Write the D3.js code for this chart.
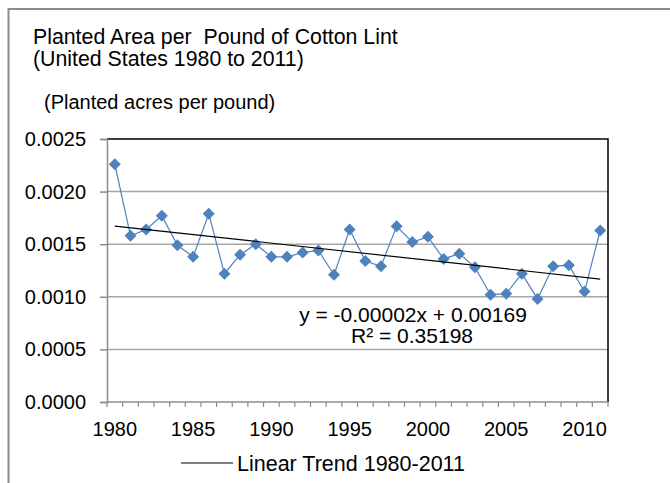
<!DOCTYPE html>
<html>
  <head>
    <meta charset="utf-8" />
    <title>Planted Area per Pound of Cotton Lint</title>
    <script src="https://cdnjs.cloudflare.com/ajax/libs/d3/7.8.5/d3.min.js"></script>
    <style>
      body { margin: 0; background: #fff; }
      text { font-family: "Liberation Sans", Arial, sans-serif; fill: #000; }
    </style>
  </head>
  <body>
    <div id="chart"></div>
    <script>
      // years on the category axis
      const years = d3.range(1980, 2012);
      // planted acres per pound of lint
      const acresPerPound = [
        0.00226, 0.00158, 0.00164, 0.00177, 0.00149, 0.00138, 0.00179, 0.00122,
        0.0014, 0.0015, 0.00138, 0.00138, 0.00142, 0.00144, 0.00121, 0.00164,
        0.00134, 0.00129, 0.00167, 0.00152, 0.00157, 0.00136, 0.00141, 0.00128,
        0.00102, 0.00103, 0.00122, 0.00098, 0.00129, 0.0013, 0.00105, 0.00163,
      ];
      const yTicks = [0, 0.0005, 0.001, 0.0015, 0.002, 0.0025];
      const xLabelYears = [1980, 1985, 1990, 1995, 2000, 2005, 2010];
      const titleLines = ["Planted Area per\u00a0 Pound of Cotton Lint", "(United States 1980 to 2011)"];
      const unitLabel = "(Planted acres per pound)";
      const equationText = "y = -0.00002x + 0.00169";
      const r2Text = "R\u00b2 = 0.35198";
      const legendText = "Linear Trend 1980-2011";

      const width = 670, height = 483;
      const plot = { left: 107, right: 608, top: 139, bottom: 402 };
      const blue = "#4f81bd";

      const svg = d3.select("#chart").append("svg")
        .attr("width", width).attr("height", height);

      // outer chart frame (runs off the right and bottom of the picture)
      svg.append("rect")
        .attr("x", 8.5).attr("y", 9).attr("width", 700).attr("height", 500)
        .attr("fill", "none").attr("stroke", "#8c8c8c").attr("stroke-width", 2);

      const x = d3.scaleBand().domain(years).range([plot.left, plot.right]).padding(0);
      const y = d3.scaleLinear().domain([0, 0.0025]).range([plot.bottom, plot.top]);
      const cx = (yr) => x(yr) + x.bandwidth() / 2;

      // gridlines
      svg.append("g").selectAll("line")
        .data(yTicks.filter((d) => d > 0 && d < 0.0025))
        .join("line")
        .attr("x1", plot.left).attr("x2", plot.right)
        .attr("y1", (d) => y(d)).attr("y2", (d) => y(d))
        .attr("stroke", "#a6a6a6").attr("stroke-width", 1.5);

      // black top and right edges of the plot area
      svg.append("path")
        .attr("d", `M${plot.left},${y(0.0025)}H${plot.right}V${plot.bottom}`)
        .attr("fill", "none").attr("stroke", "#000").attr("stroke-width", 1.5);

      // y axis
      const yAxis = svg.append("g")
        .attr("transform", `translate(${plot.left},0)`)
        .call(d3.axisLeft(y).tickValues(yTicks).tickFormat(d3.format(".4f")).tickSize(7).tickPadding(14));
      yAxis.select(".domain").attr("stroke", "#8c8c8c").attr("stroke-width", 1.5);
      yAxis.selectAll(".tick line").attr("stroke", "#8c8c8c").attr("stroke-width", 1.5);
      yAxis.selectAll("text").style("font-size", "20px").attr("fill", "#000");

      // x axis line and ticks at category boundaries
      svg.append("line")
        .attr("x1", plot.left).attr("x2", plot.right)
        .attr("y1", plot.bottom).attr("y2", plot.bottom)
        .attr("stroke", "#8c8c8c").attr("stroke-width", 1.5);
      const bounds = years.map((d) => x(d)).concat([x.range()[1]]);
      svg.append("g").selectAll("line")
        .data(bounds)
        .join("line")
        .attr("x1", (d) => d).attr("x2", (d) => d)
        .attr("y1", plot.bottom).attr("y2", plot.bottom + 5)
        .attr("stroke", "#8c8c8c").attr("stroke-width", 1.2);

      // x labels
      svg.append("g").selectAll("text")
        .data(xLabelYears)
        .join("text")
        .attr("x", (d) => cx(d))
        .attr("y", 436)
        .attr("text-anchor", "middle")
        .style("font-size", "20px")
        .text((d) => d);

      // data line and diamond markers
      const pts = years.map((yr, i) => ({ yr, v: acresPerPound[i] }));
      svg.append("path")
        .datum(pts)
        .attr("d", d3.line().x((d) => cx(d.yr)).y((d) => y(d.v)))
        .attr("fill", "none").attr("stroke", blue).attr("stroke-width", 1.2);
      svg.append("g").selectAll("path")
        .data(pts)
        .join("path")
        .attr("transform", (d) => `translate(${cx(d.yr)},${y(d.v)}) rotate(45)`)
        .attr("d", d3.symbol().type(d3.symbolSquare).size(72))
        .attr("fill", blue);

      // least squares trend (x = 1..32 like the spreadsheet)
      const xs = years.map((d, i) => i + 1);
      const mx = d3.mean(xs), my = d3.mean(acresPerPound);
      const slope = d3.sum(xs, (d, i) => (d - mx) * (acresPerPound[i] - my)) / d3.sum(xs, (d) => (d - mx) ** 2);
      const intercept = my - slope * mx;
      svg.append("line")
        .attr("x1", cx(years[0])).attr("y1", y(intercept + slope * 1))
        .attr("x2", cx(years[years.length - 1])).attr("y2", y(intercept + slope * years.length))
        .attr("stroke", "#000").attr("stroke-width", 1.2);

      // trend equation
      svg.append("text").attr("x", 413).attr("y", 322).attr("text-anchor", "middle")
        .style("font-size", "21px").text(equationText);
      svg.append("text").attr("x", 412).attr("y", 343).attr("text-anchor", "middle")
        .style("font-size", "21px").text(r2Text);

      // titles
      svg.append("text").attr("x", 33).attr("y", 44).style("font-size", "21.3px").text(titleLines[0]);
      svg.append("text").attr("x", 33).attr("y", 66).style("font-size", "21.3px").text(titleLines[1]);
      svg.append("text").attr("x", 44).attr("y", 109).style("font-size", "20px").text(unitLabel);

      // legend
      svg.append("line").attr("x1", 181).attr("x2", 233).attr("y1", 463).attr("y2", 463)
        .attr("stroke", "#000").attr("stroke-width", 1.2);
      svg.append("text").attr("x", 237).attr("y", 471).style("font-size", "21.5px").text(legendText);
    </script>
  </body>
</html>
